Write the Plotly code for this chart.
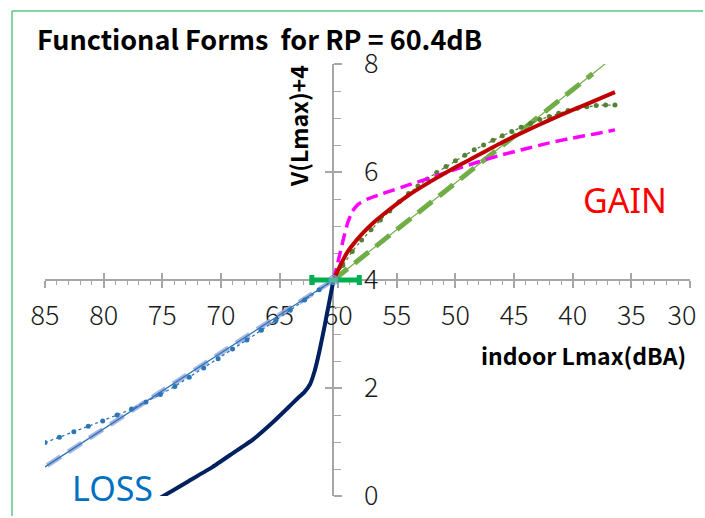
import plotly.graph_objects as go

RP = 60.4

# ---------- data ----------
x_ticks = [85, 80, 75, 70, 65, 60, 55, 50, 45, 40, 35, 30]
x_tick_text = ["85", "80", "75", "70", "65", "60", "55", "50", "45", "40", "35", "30"]
y_ticks = [0, 2, 4, 6, 8]
y_tick_text = ["0", "2", "4", "6", "8"]

# LOSS side
navy_x = [60.4, 60.8, 61.2, 61.6, 62.0, 62.4, 62.9, 63.5, 64.3, 65.5, 67.3, 69.0, 70.7, 72.8, 74.9, 75.3]
navy_y = [4.0, 3.55, 3.10, 2.68, 2.32, 2.07, 1.92, 1.80, 1.63, 1.38, 1.04, 0.79, 0.54, 0.27, 0.0, -0.05]

loss_lin_x = [60.4, 85.0]
loss_lin_y = [4.0, 0.54]

loss_dot_x = [60.4, 61.63, 62.86, 64.09, 65.32, 66.55, 67.78, 69.01, 70.24, 71.47, 72.7,
              73.93, 75.16, 76.39, 77.62, 78.85, 80.08, 81.31, 82.54, 83.77, 85.0]
loss_dot_y = [4.00, 3.82, 3.63, 3.44, 3.25, 3.07, 2.89, 2.72, 2.54, 2.37, 2.20,
              2.03, 1.88, 1.74, 1.61, 1.50, 1.39, 1.29, 1.19, 1.09, 0.99]

# GAIN side
red_x = [60.4, 59.8, 59.2, 58.5, 57.8, 57.0, 56.0, 55.0, 54.0, 52.0, 50.0, 48.0, 46.0, 44.0, 42.0, 40.0, 38.0, 36.4]
red_y = [4.0, 4.28, 4.52, 4.72, 4.89, 5.06, 5.24, 5.41, 5.57, 5.84, 6.09, 6.32, 6.55, 6.76, 6.96, 7.15, 7.33, 7.48]

mag_x = [60.4, 60.0, 59.6, 59.2, 58.8, 58.3, 57.5, 56.2, 54.0, 52.0, 50.0, 48.0, 46.0, 44.0, 42.0, 40.0, 38.0, 36.4]
mag_y = [4.0, 4.35, 4.72, 5.05, 5.27, 5.40, 5.50, 5.60, 5.76, 5.90, 6.05, 6.19, 6.32, 6.43, 6.54, 6.63, 6.71, 6.78]

gdot_x = [60.4, 59.6, 58.8, 58.0, 57.2, 56.4, 55.6, 54.8, 54.0, 53.2, 52.4, 51.6, 50.8, 50.0, 49.2, 48.4,
          47.6, 46.8, 46.0, 45.2, 44.4, 43.6, 42.8, 42.0, 41.2, 40.4, 39.6, 38.8, 38.0, 37.2, 36.4]
gdot_y = [4.00, 4.27, 4.53, 4.74, 4.93, 5.11, 5.28, 5.45, 5.60, 5.74, 5.87, 5.99, 6.10, 6.21, 6.31, 6.41,
          6.50, 6.59, 6.67, 6.75, 6.83, 6.90, 6.97, 7.03, 7.09, 7.14, 7.18, 7.21, 7.23, 7.24, 7.24]

glin_thin_x = [60.4, 37.25]
glin_thin_y = [4.0, 8.0]
glin_dash_x = [60.4, 38.3]
glin_dash_y = [4.0, 7.82]

ref_x = [RP]
ref_y = [4.0]
ref_err_plus = [1.85]
ref_err_minus = [2.2]

# ---------- figure ----------
fig = go.Figure()

# LOSS
fig.add_trace(go.Scatter(x=loss_lin_x, y=loss_lin_y, mode="lines",
                         line=dict(color="rgba(150,170,225,0.85)", width=5, dash="16px,9px")))
fig.add_trace(go.Scatter(x=loss_lin_x, y=loss_lin_y, mode="lines",
                         line=dict(color="#2E75B6", width=1.3)))
fig.add_trace(go.Scatter(x=loss_dot_x, y=loss_dot_y, mode="lines+markers",
                         line=dict(color="#2E75B6", width=1.3, dash="dot"),
                         marker=dict(color="#2E75B6", size=5)))
fig.add_trace(go.Scatter(x=navy_x, y=navy_y, mode="lines",
                         line=dict(color="#002060", width=4, shape="spline", smoothing=0.3)))

# GAIN
fig.add_trace(go.Scatter(x=glin_thin_x, y=glin_thin_y, mode="lines",
                         line=dict(color="#70AD47", width=1.2)))
fig.add_trace(go.Scatter(x=glin_dash_x, y=glin_dash_y, mode="lines",
                         line=dict(color="#70AD47", width=5, dash="18px,9px")))
fig.add_trace(go.Scatter(x=gdot_x, y=gdot_y, mode="lines+markers",
                         line=dict(color="#548235", width=1.3, dash="dot"),
                         marker=dict(color="#548235", size=5)))
fig.add_trace(go.Scatter(x=mag_x, y=mag_y, mode="lines",
                         line=dict(color="#FF00FF", width=3.5, dash="12px,6px", shape="spline", smoothing=0.5)))
fig.add_trace(go.Scatter(x=red_x, y=red_y, mode="lines",
                         line=dict(color="#C00000", width=4, shape="spline", smoothing=0.5)))

# reference point with horizontal bar
fig.add_trace(go.Scatter(x=ref_x, y=ref_y, mode="markers",
                         marker=dict(size=9, color="rgba(157,195,230,0.5)",
                                     line=dict(color="#5B9BD5", width=1.2)),
                         error_x=dict(type="data", symmetric=False, array=ref_err_plus,
                                      arrayminus=ref_err_minus, color="#00B050",
                                      thickness=5, width=5)))

# dummy traces for the overlay axes (tick marks on the other side, last x label)
fig.add_trace(go.Scatter(x=[None], y=[None], xaxis="x2", yaxis="y2", showlegend=False))
fig.add_trace(go.Scatter(x=[None], y=[None], xaxis="x3", yaxis="y2", showlegend=False))

x_pos_frac = (85 - RP) / (85 - 30)

axis_grey = "#A6A6A6"
tick_font = dict(family="Noto Sans CJK JP, sans-serif", size=27, color="#1a1a1a", weight=300)

common = dict(automargin=False, showgrid=False, zeroline=False, layer="below traces")

fig.update_layout(
    width=705, height=518,
    margin=dict(l=45, r=15, t=64, b=22, autoexpand=False),
    paper_bgcolor="white", plot_bgcolor="white",
    showlegend=False,
    hovermode=False,
    xaxis=dict(range=[85, 30], anchor="free", position=0.5, side="bottom", **common,
               showline=True, linecolor=axis_grey, linewidth=2,
               tickmode="array", tickvals=x_ticks[:-1], ticktext=x_tick_text[:-1],
               ticks="outside", ticklen=7, tickwidth=1.5, tickcolor=axis_grey,
               minor=dict(tickmode="linear", tick0=30, dtick=1, ticks="outside", ticklen=4,
                          tickwidth=1, tickcolor=axis_grey),
               tickfont=tick_font, ticklabelstandoff=5),
    # last major tick (30) with its label nudged inside the chart, as in the reference
    xaxis3=dict(range=[85, 30], overlaying="x", anchor="free", position=0.5, side="bottom", **common,
                showline=False, showticklabels=True,
                tickmode="array", tickvals=x_ticks[-1:], ticktext=x_tick_text[-1:],
                ticks="outside", ticklen=7, tickwidth=1.5, tickcolor=axis_grey,
                tickfont=tick_font, ticklabelstandoff=5, ticklabelshift=8,
                ticklabeloverflow="allow"),
    xaxis2=dict(range=[85, 30], overlaying="x", anchor="free", position=0.5, side="bottom", **common,
                showline=False, showticklabels=False,
                tickmode="array", tickvals=x_ticks,
                ticks="inside", ticklen=7, tickwidth=1.5, tickcolor=axis_grey),
    yaxis=dict(range=[0, 8], anchor="free", position=x_pos_frac, side="right", **common,
               showline=True, linecolor=axis_grey, linewidth=2,
               tickmode="array", tickvals=y_ticks, ticktext=y_tick_text,
               ticks="outside", ticklen=8, tickwidth=1.5, tickcolor=axis_grey,
               minor=dict(dtick=0.5, ticks="outside", ticklen=7, tickwidth=1, tickcolor=axis_grey),
               tickfont=tick_font, ticklabelstandoff=16, ticklabeloverflow="allow"),
    yaxis2=dict(range=[0, 8], overlaying="y", anchor="free", position=x_pos_frac, side="right", **common,
                showline=False, showticklabels=False,
                tickmode="array", tickvals=y_ticks,
                ticks="inside", ticklen=8, tickwidth=1.5, tickcolor=axis_grey),
)

# chart border (green frame: only left and top edges are visible in the reference)
pw, ph = 645.0, 432.0
frame_x0 = (12 - 45) / pw
frame_top = (496 - 11) / ph
fig.add_shape(type="line", xref="paper", yref="paper",
              x0=frame_x0, x1=frame_x0, y0=-20 / ph, y1=frame_top,
              line=dict(color="#5CC386", width=1.5), layer="below")
fig.add_shape(type="line", xref="paper", yref="paper",
              x0=frame_x0, x1=1 + 13 / pw, y0=frame_top, y1=frame_top,
              line=dict(color="#5CC386", width=1.5), layer="below")

title_font = dict(family="Noto Sans CJK JP, sans-serif", size=27, color="black")
fig.add_annotation(text="<b>Functional Forms  for RP = 60.4dB</b>", xref="paper", yref="paper",
                   x=(35 - 45) / pw, y=(496 - 39) / ph, xanchor="left", yanchor="middle",
                   showarrow=False, font=title_font)

lab_font = dict(family="Noto Sans CJK JP, Noto Sans, sans-serif", size=23, color="black")
fig.add_annotation(text="<b>V(Lmax)+4</b>", xref="paper", yref="paper",
                   x=(298 - 45) / pw, y=(496 - 126) / ph, xanchor="center", yanchor="middle",
                   textangle=-90, showarrow=False, font=lab_font)
fig.add_annotation(text="<b>indoor Lmax(dBA)</b>", xref="paper", yref="paper",
                   x=(688 - 45) / pw, y=(496 - 355) / ph, xanchor="right", yanchor="middle",
                   showarrow=False, font=lab_font)

fig.add_annotation(text="GAIN", xref="paper", yref="paper",
                   x=(625 - 45) / pw, y=(496 - 200) / ph, xanchor="center", yanchor="middle",
                   showarrow=False, font=dict(family="Noto Sans, sans-serif", size=34, color="#FF0000"))
fig.add_annotation(text="LOSS", xref="paper", yref="paper",
                   x=(112 - 45) / pw, y=(496 - 488) / ph, xanchor="center", yanchor="middle",
                   showarrow=False, font=dict(family="Noto Sans, sans-serif", size=34, color="#0070C0"))

fig.write_html("out.html")
